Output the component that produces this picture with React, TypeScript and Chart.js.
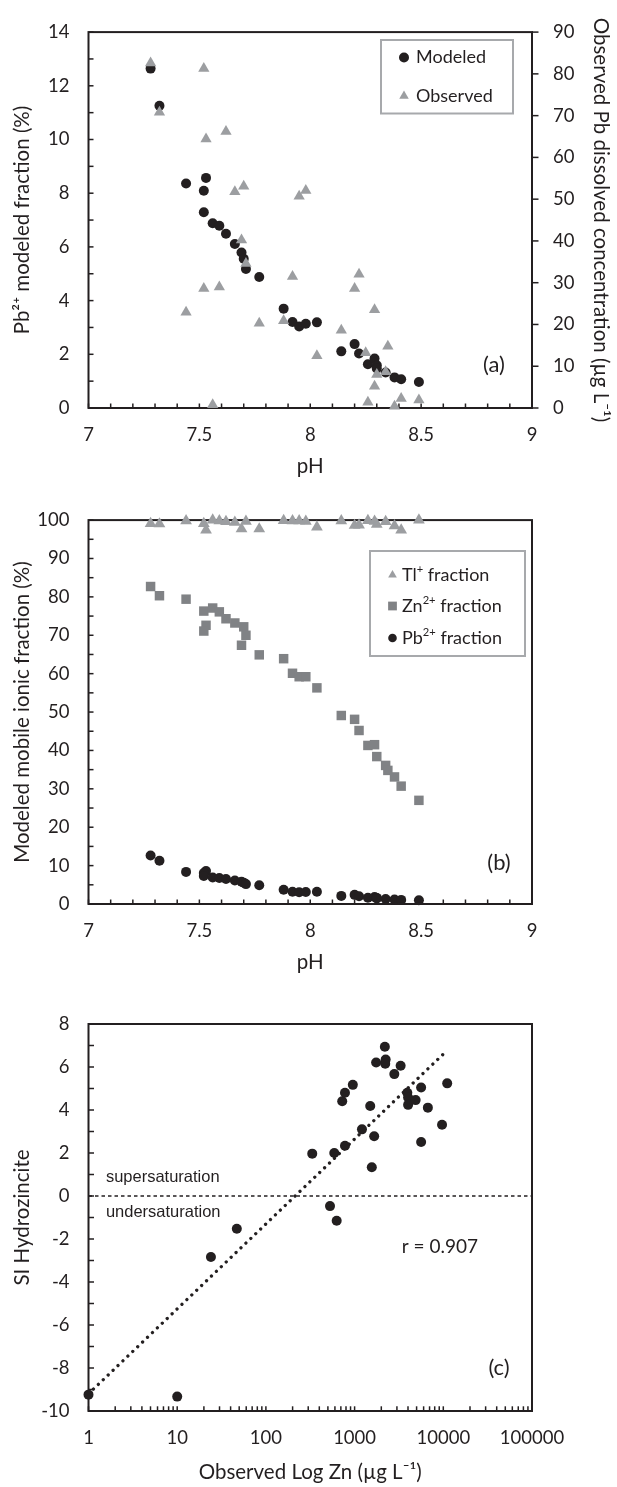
import React, { useEffect, useRef } from 'react';
import { Chart, registerables } from 'chart.js';

Chart.register(...registerables);

// ---------------- DATA ----------------
// (a) modeled Pb2+ fraction (%) vs pH
const modeledPH = [7.28, 7.32, 7.44, 7.53, 7.52, 7.52, 7.56, 7.59, 7.62, 7.66, 7.69, 7.70, 7.71, 7.77, 7.88, 7.92, 7.95, 7.98, 8.03, 8.14, 8.20, 8.22, 8.26, 8.29, 8.30, 8.30, 8.34, 8.38, 8.41, 8.49];
const modeledPb = [12.64, 11.26, 8.36, 8.57, 8.09, 7.29, 6.88, 6.79, 6.49, 6.11, 5.79, 5.56, 5.18, 4.88, 3.70, 3.20, 3.04, 3.14, 3.19, 2.11, 2.38, 2.03, 1.63, 1.84, 1.59, 1.47, 1.32, 1.14, 1.07, 0.97];
// (a) observed Pb dissolved concentration (µg/L) vs pH
const observedPH = [7.28, 7.32, 7.52, 7.53, 7.62, 7.66, 7.70, 7.69, 7.71, 7.95, 7.98, 7.44, 7.52, 7.59, 7.56, 7.77, 7.88, 7.92, 8.03, 8.14, 8.20, 8.22, 8.25, 8.29, 8.35, 8.34, 8.30, 8.29, 8.26, 8.38, 8.41, 8.49];
const observedPb = [82.6, 70.8, 81.3, 64.4, 66.2, 51.8, 53.1, 40.2, 34.6, 50.7, 52.1, 22.9, 28.6, 29.0, 0.8, 20.3, 20.9, 31.5, 12.5, 18.6, 28.6, 32.0, 13.2, 23.5, 14.8, 8.7, 8.0, 5.2, 1.4, 0.4, 2.3, 1.9];
// (b) Tl+ and Zn2+ fractions (%) vs pH  (Pb2+ fraction = modeled series above)
const tlPH = [7.28, 7.32, 7.44, 7.52, 7.53, 7.56, 7.59, 7.62, 7.66, 7.69, 7.71, 7.77, 7.88, 7.92, 7.95, 7.98, 8.03, 8.14, 8.20, 8.22, 8.26, 8.29, 8.30, 8.34, 8.38, 8.41, 8.49];
const tlFraction = [99.1, 99.0, 99.8, 99.1, 97.4, 100, 99.8, 99.6, 99.4, 97.7, 99.7, 97.7, 99.9, 99.8, 99.8, 99.7, 98.2, 99.8, 98.6, 98.7, 99.9, 99.7, 98.9, 99.6, 98.5, 97.4, 100];
const znPH = [7.28, 7.32, 7.44, 7.52, 7.53, 7.52, 7.56, 7.59, 7.62, 7.66, 7.69, 7.70, 7.71, 7.77, 7.88, 7.92, 7.95, 7.98, 8.03, 8.14, 8.20, 8.22, 8.26, 8.29, 8.30, 8.34, 8.35, 8.38, 8.41, 8.49];
const znFraction = [82.7, 80.3, 79.4, 76.3, 72.6, 71.1, 77.1, 76.1, 74.3, 73.2, 67.4, 72.2, 70.0, 64.9, 63.9, 60.1, 59.2, 59.2, 56.3, 49.1, 48.1, 45.2, 41.3, 41.5, 38.4, 36.1, 34.8, 33.1, 30.7, 27.0];
// (c) SI hydrozincite vs observed Zn (µg/L)
const zincObserved = [1, 10, 24, 47, 333, 528, 628, 590, 779, 725, 779, 955, 1211, 1500, 1563, 1662, 1749, 2193, 2239, 2215, 2803, 3304, 3929, 4010, 4010, 4874, 5623, 5623, 6699, 9680, 11066];
const siHydrozincite = [-9.24, -9.33, -2.84, -1.52, 1.97, -0.47, -1.15, 2.0, 2.34, 4.41, 4.80, 5.17, 3.10, 4.19, 1.34, 2.78, 6.21, 6.94, 6.35, 6.15, 5.67, 6.06, 4.80, 4.58, 4.24, 4.46, 5.05, 2.51, 4.11, 3.31, 5.24];
const trendZinc = [1, 10000];
const trendSI = [-9.2, 6.6];
const saturationZinc = [1, 100000];
const saturationSI = [0, 0];

// tick labels
const phTicks = [7, 7.5, 8, 8.5, 9];
const pbFractionTicks = [0, 2, 4, 6, 8, 10, 12, 14];
const pbConcTicks = [0, 10, 20, 30, 40, 50, 60, 70, 80, 90];
const mobileTicks = [0, 10, 20, 30, 40, 50, 60, 70, 80, 90, 100];
const siTicks = [-10, -8, -6, -4, -2, 0, 2, 4, 6, 8];
const zincDecades = [1, 10, 100, 1000, 10000, 100000];

// ---------------- STYLE ----------------
const INK = '#231f20';
const GREY_TRI = '#9c9ea1';
const GREY_SQ = '#808285';
const FONT = 'Lato, "Open Sans", "DejaVu Sans", sans-serif';
const ARIAL = '"Liberation Sans", Arial, sans-serif';

const pts = (xs: number[], ys: number[]) => xs.map((x, i) => ({ x, y: ys[i] }));
const range = (a: number, b: number, step: number) => {
  const out: number[] = [];
  const n = Math.round((b - a) / step);
  for (let i = 0; i <= n; i++) out.push(+(a + i * step).toFixed(6));
  return out;
};
const logMinor = () => {
  const out: number[] = [];
  for (let k = 0; k < 5; k++) for (let m = 1; m <= 9; m++) out.push(m * Math.pow(10, k));
  out.push(100000);
  return out;
};

function shape(ctx: CanvasRenderingContext2D, kind: string, x: number, y: number, r: number, color: string) {
  ctx.fillStyle = color;
  ctx.beginPath();
  if (kind === 'circle') {
    ctx.arc(x, y, r, 0, Math.PI * 2);
  } else if (kind === 'triangle') {
    let rad = 0;
    ctx.moveTo(x + Math.sin(rad) * r, y - Math.cos(rad) * r);
    rad += (2 * Math.PI) / 3;
    ctx.lineTo(x + Math.sin(rad) * r, y - Math.cos(rad) * r);
    rad += (2 * Math.PI) / 3;
    ctx.lineTo(x + Math.sin(rad) * r, y - Math.cos(rad) * r);
    ctx.closePath();
  } else {
    const s = r * Math.SQRT1_2;
    ctx.rect(x - s, y - s, 2 * s, 2 * s);
  }
  ctx.fill();
}

function drawRich(ctx: CanvasRenderingContext2D, x: number, y: number, parts: any[], size: number, family: string) {
  let cx = x;
  ctx.textBaseline = 'middle';
  ctx.textAlign = 'left';
  ctx.fillStyle = INK;
  for (const [t, sup] of parts) {
    const fs = sup ? size * 0.62 : size;
    ctx.font = `${fs}px ${family}`;
    ctx.fillText(t, cx, sup ? y - size * 0.32 : y);
    cx += ctx.measureText(t).width;
  }
}

const framePlugin = {
  id: 'frame',
  beforeDatasetsDraw(chart: any, _a: any, opts: any) {
    const { ctx, chartArea: a } = chart;
    ctx.save();
    ctx.strokeStyle = INK;
    ctx.lineWidth = 2;
    ctx.strokeRect(a.left, a.top, a.right - a.left, a.bottom - a.top);
    ctx.lineWidth = 1.5;
    for (const t of opts.ticks || []) {
      const s = chart.scales[t.scale];
      for (const v of t.values) {
        const p = s.getPixelForValue(v);
        ctx.beginPath();
        if (t.side === 'bottom') { ctx.moveTo(p, a.bottom); ctx.lineTo(p, a.bottom - t.len); }
        else if (t.side === 'left') { ctx.moveTo(a.left, p); ctx.lineTo(a.left + t.len, p); }
        else { ctx.moveTo(a.right, p); ctx.lineTo(a.right + t.len, p); }
        ctx.stroke();
      }
    }
    ctx.restore();
  },
  afterDatasetsDraw(chart: any, _a: any, opts: any) {
    const { ctx, chartArea: a } = chart;
    ctx.save();
    if (opts.legend) {
      const L = opts.legend;
      ctx.fillStyle = '#ffffff';
      ctx.fillRect(L.box[0], L.box[1], L.box[2] - L.box[0], L.box[3] - L.box[1]);
      ctx.strokeStyle = '#a7a9ac';
      ctx.lineWidth = 2;
      ctx.strokeRect(L.box[0], L.box[1], L.box[2] - L.box[0], L.box[3] - L.box[1]);
      for (const it of L.items) {
        shape(ctx, it.shape, it.x, it.y, it.r, it.color);
        drawRich(ctx, it.tx, it.y, it.parts, 18, FONT);
      }
    }
    for (const t of opts.texts || []) {
      let x, y;
      if (t.data) {
        x = chart.scales.x.getPixelForValue(t.data[0]);
        y = chart.scales.y.getPixelForValue(t.data[1]);
      } else {
        x = a.right + t.dx;
        y = a.bottom + t.dy;
      }
      ctx.font = `${t.size}px ${t.family}`;
      ctx.fillStyle = INK;
      ctx.textAlign = t.align || 'left';
      ctx.textBaseline = 'middle';
      ctx.fillText(t.text, x, y);
    }
    ctx.restore();
  },
};

const tickFont = { family: FONT, size: 18.5 };
const titleFont = { family: FONT, size: 20.5 };

function xLinear(height: number, titleBottom: number) {
  return {
    type: 'linear',
    position: 'bottom',
    min: 7,
    max: 9,
    afterBuildTicks: (s: any) => { s.ticks = phTicks.map((v) => ({ value: v })); },
    afterFit: (s: any) => { s.height = height; },
    grid: { display: false, drawTicks: false },
    border: { display: false },
    ticks: { font: tickFont, color: INK, padding: 16, autoSkip: false, maxRotation: 0, callback: (v: any) => String(v) },
    title: { display: true, text: 'pH', font: titleFont, color: INK, padding: { top: 0, bottom: titleBottom } },
  };
}

function yLinear(position: string, min: number, max: number, labels: number[], width: number, title: string, tpad: number, lpad: number) {
  return {
    type: 'linear',
    position,
    min,
    max,
    afterBuildTicks: (s: any) => { s.ticks = labels.map((v) => ({ value: v })); },
    afterFit: (s: any) => { s.width = width; },
    grid: { display: false, drawTicks: false },
    border: { display: false },
    ticks: { font: tickFont, color: INK, padding: lpad, autoSkip: false, callback: (v: any) => String(v) },
    title: { display: true, text: title, font: titleFont, color: INK, padding: { top: tpad, bottom: 0 } },
  };
}

const baseOptions = (padding: any) => ({
  animation: false,
  responsive: false,
  events: [],
  layout: { padding },
});

function configA() {
  return {
    type: 'scatter',
    data: {
      datasets: [
        { label: 'Observed', data: pts(observedPH, observedPb), yAxisID: 'y2', pointStyle: 'triangle', pointRadius: 6.5, pointBackgroundColor: GREY_TRI, pointBorderWidth: 0, order: 0, clip: false },
        { label: 'Modeled', data: pts(modeledPH, modeledPb), yAxisID: 'y', pointStyle: 'circle', pointRadius: 5, pointBackgroundColor: INK, pointBorderWidth: 0, order: 1, clip: false },
      ],
    },
    options: {
      ...baseOptions({ top: 21.5, left: 0, right: 0, bottom: 0 }),
      plugins: {
        legend: { display: false },
        tooltip: { enabled: false },
        frame: {
          ticks: [
            { scale: 'x', side: 'bottom', len: 4.5, values: range(7, 9, 0.1) },
            { scale: 'y', side: 'left', len: 5, values: range(0, 14, 1) },
            { scale: 'y2', side: 'right', len: 6.5, values: range(0, 90, 10) },
          ],
          legend: {
            box: [381, 40, 513, 113.5],
            items: [
              { shape: 'circle', r: 5, color: INK, x: 404, y: 57.5, tx: 416, parts: [['Modeled', false]] },
              { shape: 'triangle', r: 5.5, color: GREY_TRI, x: 404, y: 96, tx: 416, parts: [['Observed', false]] },
            ],
          },
          texts: [{ text: '(a)', dx: -38, dy: -43, size: 22, family: FONT, align: 'center' }],
        },
      },
      scales: {
        x: xLinear(82, 11.7),
        y: yLinear('left', 0, 14, pbFractionTicks, 88.5, 'Pb²⁺ modeled fraction (%)', 9.7, 19),
        y2: yLinear('right', 0, 90, pbConcTicks, 85, 'Observed Pb dissolved concentration (µg L⁻¹)', 3.7, 21),
      },
    },
    plugins: [framePlugin],
  };
}

function configB() {
  return {
    type: 'scatter',
    data: {
      datasets: [
        { label: 'Tl+ fraction', data: pts(tlPH, tlFraction), pointStyle: 'triangle', pointRadius: 6.8, pointBackgroundColor: GREY_TRI, pointBorderWidth: 0, clip: false },
        { label: 'Zn2+ fraction', data: pts(znPH, znFraction), pointStyle: 'rect', pointRadius: 6.7, pointBackgroundColor: GREY_SQ, pointBorderWidth: 0, clip: false },
        { label: 'Pb2+ fraction', data: pts(modeledPH, modeledPb), pointStyle: 'circle', pointRadius: 5, pointBackgroundColor: INK, pointBorderWidth: 0, clip: false },
      ],
    },
    options: {
      ...baseOptions({ top: 28, left: 0, right: 85, bottom: 0 }),
      plugins: {
        legend: { display: false },
        tooltip: { enabled: false },
        frame: {
          ticks: [
            { scale: 'x', side: 'bottom', len: 4.5, values: range(7, 9, 0.1) },
            { scale: 'y', side: 'left', len: 5, values: range(0, 100, 5) },
          ],
          legend: {
            box: [370, 61, 525, 166],
            items: [
              { shape: 'triangle', r: 5, color: GREY_TRI, x: 392.5, y: 85, tx: 402, parts: [['Tl', false], ['+', true], [' fraction', false]] },
              { shape: 'rect', r: 6.2, color: GREY_SQ, x: 392.5, y: 116, tx: 402, parts: [['Zn', false], ['2+', true], [' fraction', false]] },
              { shape: 'circle', r: 4.3, color: INK, x: 392.5, y: 148, tx: 402, parts: [['Pb', false], ['2+', true], [' fraction', false]] },
            ],
          },
          texts: [{ text: '(b)', dx: -33, dy: -41, size: 22, family: FONT, align: 'center' }],
        },
      },
      scales: {
        x: xLinear(86, 15.7),
        y: yLinear('left', 0, 100, mobileTicks, 88.5, 'Modeled mobile ionic fraction (%)', 9.7, 19),
      },
    },
    plugins: [framePlugin],
  };
}

function configC() {
  return {
    type: 'scatter',
    data: {
      datasets: [
        { label: 'samples', data: pts(zincObserved, siHydrozincite), pointStyle: 'circle', pointRadius: 5, pointBackgroundColor: INK, pointBorderWidth: 0, clip: false, order: 0 },
        { label: 'trend', data: pts(trendZinc, trendSI), showLine: true, pointRadius: 0, borderColor: INK, borderWidth: 3.3, borderDash: [0.01, 6.8], borderCapStyle: 'round', order: 1 },
        { label: 'saturation', data: pts(saturationZinc, saturationSI), showLine: true, pointRadius: 0, borderColor: INK, borderWidth: 1.3, borderDash: [3.5, 3], order: 2 },
      ],
    },
    options: {
      ...baseOptions({ top: 34, left: 0, right: 85, bottom: 0 }),
      plugins: {
        legend: { display: false },
        tooltip: { enabled: false },
        frame: {
          ticks: [
            { scale: 'x', side: 'bottom', len: 4.7, values: logMinor() },
            { scale: 'y', side: 'left', len: 5.5, values: range(-10, 8, 1) },
          ],
          texts: [
            { text: 'supersaturation', data: [1.57, 0.85], size: 16.5, family: ARIAL, align: 'left' },
            { text: 'undersaturation', data: [1.57, -0.75], size: 16.5, family: ARIAL, align: 'left' },
            { text: 'r = 0.907', data: [3400, -2.35], size: 19, family: FONT, align: 'left' },
            { text: '(c)', dx: -33, dy: -43, size: 22, family: FONT, align: 'center' },
          ],
        },
      },
      scales: {
        x: {
          type: 'logarithmic',
          position: 'bottom',
          min: 1,
          max: 100000,
          afterBuildTicks: (s: any) => { s.ticks = zincDecades.map((v) => ({ value: v })); },
          afterFit: (s: any) => { s.height = 76; },
          grid: { display: false, drawTicks: false },
          border: { display: false },
          ticks: { font: tickFont, color: INK, padding: 16, autoSkip: false, maxRotation: 0, callback: (v: any) => String(v) },
          title: { display: true, text: 'Observed Log Zn (µg L⁻¹)', font: titleFont, color: INK, padding: { top: 0, bottom: 2.7 } },
        },
        y: yLinear('left', -10, 8, siTicks, 88.5, 'SI Hydrozincite', 9.7, 19),
      },
    },
    plugins: [framePlugin],
  };
}

function Panel({ top, height, make }: { top: number; height: number; make: () => any }) {
  const ref = useRef<HTMLCanvasElement | null>(null);
  useEffect(() => {
    if (!ref.current) return;
    const chart = new Chart(ref.current, make());
    return () => chart.destroy();
  }, []);
  return (
    <canvas
      ref={ref}
      width={617}
      height={height}
      style={{ position: 'absolute', left: 0, top, width: 617, height }}
    />
  );
}

export default function App() {
  return (
    <div style={{ position: 'absolute', left: 0, top: 0, width: 617, height: 1487, background: '#ffffff', overflow: 'hidden' }}>
      <Panel top={0} height={490} make={configA} />
      <Panel top={490} height={500} make={configB} />
      <Panel top={990} height={497} make={configC} />
    </div>
  );
}
